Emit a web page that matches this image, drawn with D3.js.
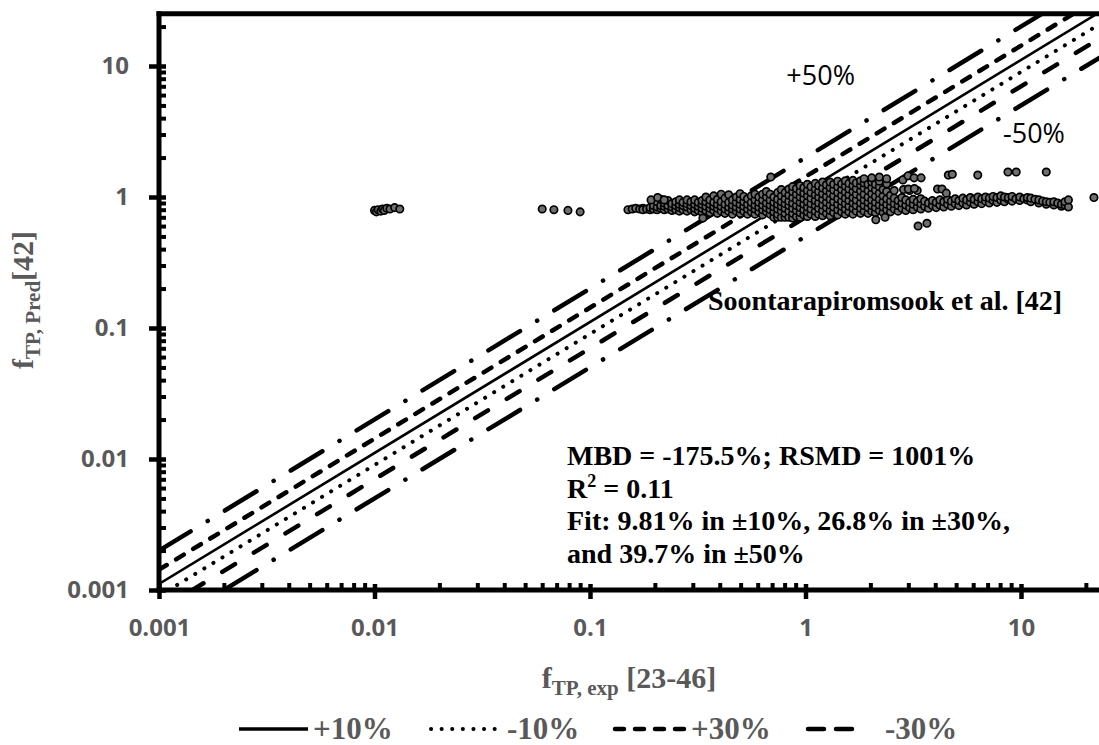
<!DOCTYPE html>
<html><head><meta charset="utf-8">
<script src="https://cdn.jsdelivr.net/npm/d3@7"></script>
<style>body{margin:0;background:#fff}svg{display:block}</style>
</head><body><svg id="c" width="1099" height="745"></svg>
<script>
// ---------- data ----------
const xTickVals = [0.001, 0.01, 0.1, 1, 10];
const xTickLabels = ["0.001", "0.01", "0.1", "1", "10"];
const yTickVals = [0.001, 0.01, 0.1, 1, 10];
const yTickLabels = ["0.001", "0.01", "0.1", "1", "10"];

const lineNames = ["+10%", "-10%", "+30%", "-30%", "+50%", "-50%"];
const lineFactors = [1.111, 0.9, 1.429, 0.7, 2.0, 0.5];
const legendNames = ["+10%", "-10%", "+30%", "-30%"];

// isolated group near x = 0.01
const ptsA = [[0.0100,0.79],[0.0102,0.77],[0.0104,0.80],[0.0107,0.78],[0.0109,0.81],[0.0111,0.79],[0.0114,0.82],[0.0118,0.81],[0.0124,0.83],[0.0131,0.81]];
// small group 0.06-0.09
const ptsB = [[0.060,0.81],[0.068,0.80],[0.079,0.79],[0.090,0.77]];
// main band: [x, [y...]]
const bandCols = [
[0.150,[0.80]],[0.157,[0.81]],[0.163,[0.82]],[0.170,[0.81]],[0.176,[0.82,0.80]],[0.183,[0.81]],
[0.190,[0.80,0.83]],[0.197,[0.81,0.86]],[0.205,[0.80,0.84,0.92]],[0.213,[0.82,0.86,0.96]],
[0.221,[0.80,0.85,0.90]],[0.230,[0.81,0.86,0.94]],[0.240,[0.79,0.84,0.89]],[0.250,[0.80,0.86,0.92]],
[0.260,[0.78,0.83,0.88,0.95]],[0.270,[0.80,0.86,0.91]],[0.282,[0.78,0.84,0.89,0.95]],[0.294,[0.80,0.86,0.92]],
[0.306,[0.77,0.82,0.88,0.95]],[0.318,[0.79,0.85,0.91]],[0.331,[0.76,0.82,0.88,0.94]],[0.345,[0.79,0.85,0.92,1.00]],
[0.360,[0.76,0.82,0.88,0.95]],[0.375,[0.79,0.85,0.91,1.02]],[0.390,[0.75,0.82,0.88,0.96]],[0.406,[0.78,0.85,0.92,1.05]],
[0.423,[0.75,0.81,0.88,0.98]],[0.440,[0.78,0.84,0.91,1.04]],[0.458,[0.74,0.81,0.87,0.95]],[0.477,[0.78,0.84,0.91,1.00]],
[0.497,[0.75,0.81,0.88,0.96,1.06]],[0.517,[0.78,0.85,0.92,1.01]],[0.538,[0.74,0.81,0.88,0.97]],[0.560,[0.77,0.84,0.91,1.02]],
[0.583,[0.74,0.81,0.87,0.95,1.05]],[0.607,[0.77,0.84,0.91,1.00]],[0.632,[0.73,0.80,0.87,0.95,1.05]],[0.658,[0.77,0.83,0.90,1.00,1.10]],
[0.685,[0.74,0.80,0.87,0.95,1.05]],[0.713,[0.70,0.77,0.84,0.91,1.00]],[0.742,[0.70,0.74,0.81,0.88,0.96,1.08]],
[0.772,[0.70,0.78,0.85,0.92,1.02,1.14]],[0.804,[0.70,0.75,0.82,0.89,0.97,1.08]],[0.837,[0.70,0.78,0.86,0.93,1.03,1.15]],
[0.871,[0.69,0.75,0.82,0.90,0.99,1.10,1.20]],[0.907,[0.71,0.79,0.86,0.95,1.05,1.16]],[0.944,[0.70,0.76,0.83,0.91,1.00,1.10,1.22]],
[0.982,[0.73,0.80,0.88,0.97,1.07,1.18]],[1.02,[0.71,0.77,0.84,0.92,1.02,1.12,1.25]],[1.06,[0.74,0.81,0.89,0.98,1.08,1.20]],
[1.11,[0.71,0.78,0.86,0.94,1.04,1.15,1.27]],[1.15,[0.74,0.82,0.90,1.00,1.10,1.22]],[1.20,[0.72,0.79,0.87,0.96,1.06,1.17,1.30]],
[1.25,[0.75,0.83,0.91,1.01,1.12,1.24]],[1.30,[0.72,0.79,0.87,0.96,1.07,1.18,1.30]],[1.35,[0.76,0.84,0.92,1.02,1.13,1.25]],
[1.41,[0.73,0.80,0.88,0.97,1.08,1.20,1.32]],[1.47,[0.77,0.85,0.93,1.03,1.14,1.26]],[1.53,[0.74,0.81,0.89,0.98,1.09,1.21,1.33]],
[1.59,[0.77,0.85,0.94,1.04,1.15,1.27]],[1.66,[0.74,0.82,0.90,0.99,1.10,1.22,1.34]],[1.72,[0.78,0.86,0.95,1.05,1.16,1.28]],
[1.80,[0.75,0.82,0.90,1.00,1.11,1.23,1.33]],[1.87,[0.78,0.86,0.95,1.05,1.17,1.28,1.38]],[1.95,[0.75,0.83,0.91,1.00,1.12,1.25]],
[2.03,[0.78,0.86,0.95,1.06,1.18,1.30,1.40]],[2.11,[0.76,0.83,0.91,1.01,1.13,1.25]],[2.20,[0.79,0.87,0.96,1.07,1.20,1.32,1.42]],
[2.29,[0.76,0.84,0.92,1.02,1.14]],[2.38,[0.80,0.88,0.97,1.10,1.26,1.38]],[2.48,[0.77,0.85,0.93,1.03]],[2.58,[0.81,0.89,0.98,1.12]],
[2.69,[0.78,0.86,0.94]],[2.80,[0.82,0.90,0.99]],[2.92,[0.79,0.87,0.95]],[3.04,[0.83,0.91,1.12]],[3.16,[0.80,0.88,0.96]],
[3.30,[0.84,0.92,1.12]],[3.43,[0.81,0.89,0.97]],[3.57,[0.85,0.93]],[3.72,[0.82,0.90]],[3.88,[0.86,0.94]],[4.04,[0.83,0.91]],
[4.20,[0.87,0.95]],[4.38,[0.84,0.92]],[4.56,[0.88,0.96]],[4.75,[0.85,0.93]],[4.95,[0.89,0.97]],[5.15,[0.86,0.94]],
[5.37,[0.90,0.98]],[5.59,[0.87,0.95]],[5.82,[0.91,0.99]],[6.06,[0.88,0.96]],[6.31,[0.92,1.00]],[6.57,[0.89,0.97]],
[6.84,[0.93,1.00]],[7.13,[0.90,0.98]],[7.42,[0.94,1.01]],[7.73,[0.91,0.99]],[8.05,[0.95,1.02]],[8.38,[0.92,1.00]],
[8.73,[0.96,0.99]],[9.09,[0.93,1.01]],[9.47,[0.97]],[9.86,[0.94,1.00]],[10.3,[0.97]],[10.7,[0.95,0.99]],[11.1,[0.92,0.98]],
[11.6,[0.96]],[12.1,[0.90,0.95]],[12.6,[0.93]],[13.1,[0.88,0.92]],[13.6,[0.91]],[14.2,[0.87,0.92]],[14.8,[0.90]],
[15.4,[0.85,0.88]],[16.0,[0.87,0.92]],[16.6,[0.84,0.95]]
];
// scattered points off the band
const ptsOut = [[0.192,0.95],[0.206,0.99],[0.221,0.95],[0.334,0.69],[0.69,1.42],
[2.12,0.67],[2.34,0.70],[3.33,0.60],[3.66,0.63],
[2.83,1.35],[2.99,1.45],[3.19,1.40],[3.44,1.40],[4.6,1.47],[4.8,1.49],[6.3,1.47],
[8.7,1.55],[9.5,1.55],[13.1,1.55],[2.85,1.14],[3.0,1.15],[3.2,1.16],[4.1,1.15],[4.3,1.15],[4.5,1.07],[21.8,0.99]];

// ---------- chart ----------
const svg = d3.select("#c");
const X0 = 159, DX = 215.5, Y0 = 590, DY = 131;
const x = d3.scaleLog().domain([0.001, 25]).range([X0, X0 + DX * Math.log10(25000)]);
const y = d3.scaleLog().domain([0.001, 25]).range([Y0, Y0 - DY * Math.log10(25000)]);
const TOP = y(25);

const styles = {
  "+10%": {w: 2.6, dash: null},
  "-10%": {w: 4, dash: "0.1,10.5"},
  "+30%": {w: 4.5, dash: "9,11"},
  "-30%": {w: 4.5, dash: "15,22"},
  "+50%": {w: 4.5, dash: "37,20,0.1,20"},
  "-50%": {w: 4.5, dash: "37,20,0.1,20"}
};

svg.append("clipPath").attr("id", "clip").append("rect")
  .attr("x", X0).attr("y", TOP).attr("width", 1200).attr("height", Y0 - TOP);

const lineGen = d3.line().x(d => x(d[0])).y(d => y(d[1]));
const gLines = svg.append("g").attr("clip-path", "url(#clip)");
lineNames.forEach((n, i) => {
  const f = lineFactors[i];
  const s = styles[n];
  gLines.append("path")
    .attr("d", lineGen([[0.001, 0.001 * f], [40, 40 * f]]))
    .attr("fill", "none").attr("stroke", "#000")
    .attr("stroke-width", s.w)
    .attr("stroke-linecap", s.dash ? "round" : "butt")
    .attr("stroke-dasharray", s.dash);
});

// points
const pts = [];
ptsA.forEach(p => pts.push(p));
ptsB.forEach(p => pts.push(p));
bandCols.forEach(c => c[1].forEach(v => pts.push([c[0], v])));
ptsOut.forEach(p => pts.push(p));
svg.append("g").attr("clip-path", "url(#clip)").selectAll("circle").data(pts).join("circle")
  .attr("cx", d => x(d[0])).attr("cy", d => y(d[1])).attr("r", 3.7)
  .attr("fill", "#6f6f6f").attr("stroke", "#000").attr("stroke-width", 1.7);

// axes
const tickFont = "'Open Sans', sans-serif";
const minorX = x.ticks().filter(v => !xTickVals.some(t => Math.abs(t - v) / t < 1e-6));
const minorY = y.ticks().filter(v => !yTickVals.some(t => Math.abs(t - v) / t < 1e-6));

const gxMin = svg.append("g").attr("transform", `translate(0,${Y0 - 7})`)
  .call(d3.axisBottom(x).tickValues(minorX).tickSize(7).tickFormat(""));
const gxMaj = svg.append("g").attr("transform", `translate(0,${Y0 - 6})`)
  .call(d3.axisBottom(x).tickValues(xTickVals).tickSize(15).tickPadding(20)
    .tickFormat((d, i) => xTickLabels[i]));
const gyMin = svg.append("g").attr("transform", `translate(${X0 + 7},0)`)
  .call(d3.axisLeft(y).tickValues(minorY).tickSize(7).tickFormat(""));
const gyMaj = svg.append("g").attr("transform", `translate(${X0 + 7},0)`)
  .call(d3.axisLeft(y).tickValues(yTickVals).tickSize(17).tickPadding(20)
    .tickFormat((d, i) => yTickLabels[i]));

[gxMin, gxMaj, gyMin, gyMaj].forEach(g => {
  g.select(".domain").remove();
  g.selectAll(".tick line").attr("stroke", "#000").attr("stroke-width", 4.5);
  g.selectAll(".tick text").attr("fill", "#595959").attr("font-family", tickFont)
    .attr("font-weight", "bold").attr("font-size", 24);
});
gxMin.selectAll(".tick line").attr("stroke-width", 4);
gyMin.selectAll(".tick line").attr("stroke-width", 4);

// axis lines / border
svg.append("line").attr("x1", X0).attr("x2", X0).attr("y1", TOP - 2.5).attr("y2", Y0 + 2.5)
  .attr("stroke", "#000").attr("stroke-width", 5);
svg.append("line").attr("x1", X0 - 2.5).attr("x2", 1099).attr("y1", Y0).attr("y2", Y0)
  .attr("stroke", "#000").attr("stroke-width", 5);
svg.append("line").attr("x1", X0 - 2.5).attr("x2", 1099).attr("y1", TOP).attr("y2", TOP)
  .attr("stroke", "#000").attr("stroke-width", 5);

// axis titles
const serif = "'Liberation Serif', 'Times New Roman', serif";
const xt = svg.append("text").attr("x", (X0 + 1099) / 2).attr("y", 688)
  .attr("text-anchor", "middle").attr("font-family", serif).attr("font-weight", "bold")
  .attr("font-size", 30).attr("fill", "#595959");
xt.append("tspan").text("f");
xt.append("tspan").attr("font-size", 21).attr("dy", 7).text("TP, exp");
xt.append("tspan").attr("dy", -7).text(" [23-46]");

const yt = svg.append("text").attr("transform", "translate(33,300) rotate(-90)")
  .attr("text-anchor", "middle").attr("font-family", serif).attr("font-weight", "bold")
  .attr("font-size", 30).attr("fill", "#595959");
yt.append("tspan").text("f");
yt.append("tspan").attr("font-size", 21).attr("dy", 7).text("TP, Pred");
yt.append("tspan").attr("dy", -7).text("[42]");

// annotations
const ann = svg.append("g").attr("font-family", serif).attr("font-weight", "bold")
  .attr("font-size", 28).attr("fill", "#000");
ann.append("text").attr("x", 708).attr("y", 310).text("Soontarapiromsook et al. [42]");
ann.append("text").attr("x", 567).attr("y", 465).text("MBD = -175.5%; RSMD = 1001%");
const r2 = ann.append("text").attr("x", 567).attr("y", 498);
r2.append("tspan").text("R");
r2.append("tspan").attr("font-size", 18).attr("dy", -11).text("2");
r2.append("tspan").attr("dy", 11).text(" = 0.11");
ann.append("text").attr("x", 567).attr("y", 530).text("Fit: 9.81% in \u00b110%, 26.8% in \u00b130%,");
ann.append("text").attr("x", 567).attr("y", 563).text("and 39.7% in \u00b150%");

svg.append("text").attr("x", 855).attr("y", 85).attr("text-anchor", "end")
  .attr("font-family", tickFont).attr("font-size", 27).attr("fill", "#000").text(lineNames[4]);
svg.append("text").attr("x", 1003).attr("y", 143)
  .attr("font-family", tickFont).attr("font-size", 27).attr("fill", "#000").text(lineNames[5]);

// legend
const legPos = [[239, 308, 313], [431, 501, 507], [615, 688, 691], [808, 852, 885]];
const legY = 729;
legendNames.forEach((n, i) => {
  const s = styles[n];
  const p = legPos[i];
  svg.append("line").attr("x1", p[0]).attr("x2", p[1]).attr("y1", legY).attr("y2", legY)
    .attr("stroke", "#000").attr("stroke-width", s.w + (s.dash ? 0 : 1))
    .attr("stroke-linecap", s.dash ? "round" : "butt")
    .attr("stroke-dasharray", n === "-30%" ? "16,12" : s.dash);
  svg.append("text").attr("x", p[2]).attr("y", 739).attr("font-family", serif)
    .attr("font-weight", "bold").attr("font-size", 31).attr("fill", "#595959").text(n);
});
</script></body></html>
